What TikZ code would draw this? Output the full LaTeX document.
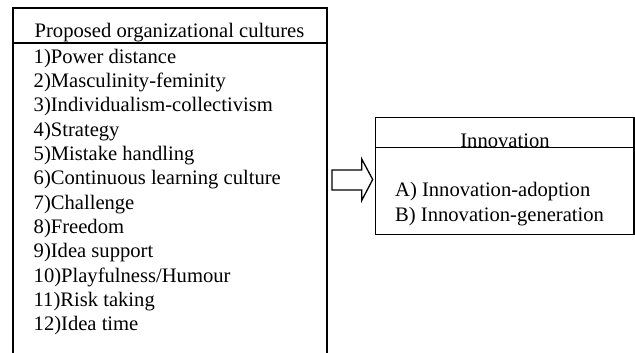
\documentclass[tikz,border=0pt]{standalone}
\usepackage{fontspec}
\setmainfont{Liberation Serif}
\begin{document}
\begin{tikzpicture}[x=1pt,y=-1pt,
  boxline/.style={line width=1.5pt,black},
  txt/.style={anchor=base west,inner sep=0pt,font=\fontsize{20.6}{24}\selectfont},
  ttl/.style={anchor=base,inner sep=0pt,font=\fontsize{20.6}{24}\selectfont}]
\useasboundingbox (0,0) rectangle (635,353);
% left box
\coordinate (LTL) at (13,8);
\coordinate (LTR) at (327,8);
\coordinate (LBL) at (13,354);
\coordinate (LBR) at (327,354);
\coordinate (LSL) at (13,43);
\coordinate (LSR) at (327,43);
\draw[boxline] (LBL) -- (LTL) -- (LTR) -- (LBR);
\draw[boxline] (LSL) -- (LSR);
\node[ttl] (ltitle) at (169.5,37.5) {Proposed organizational cultures};
\node[txt] (i1) at (33.5,63.3) {1)Power distance};
\node[txt] (i2) at (33.5,87.6) {2)Masculinity-feminity};
\node[txt] (i3) at (33.5,111.9) {3)Individualism-collectivism};
\node[txt] (i4) at (33.5,136.2) {4)Strategy};
\node[txt] (i5) at (33.5,160.5) {5)Mistake handling};
\node[txt] (i6) at (33.5,184.8) {6)Continuous learning culture};
\node[txt] (i7) at (33.5,209.1) {7)Challenge};
\node[txt] (i8) at (33.5,233.4) {8)Freedom};
\node[txt] (i9) at (33.5,257.7) {9)Idea support};
\node[txt] (i10) at (33.5,282.0) {10)Playfulness/Humour};
\node[txt] (i11) at (33.5,306.3) {11)Risk taking};
\node[txt] (i12) at (33.5,330.6) {12)Idea time};
% right box
\draw[boxline] (375.5,117.7) rectangle (634,234.3);
\node[ttl] (rtitle) at (505,147) {Innovation};
\draw[boxline] (375.5,147.7) -- (634,147.7);
\node[txt] (a) at (395,196.7) {A) Innovation-adoption};
\node[txt] (b) at (395,221) {B) Innovation-generation};
% block arrow
\draw[line width=1.3pt,line join=miter]
  (332,170) -- (361.7,170) -- (361.7,159) -- (372.7,179.5) -- (361.7,200.5)
  -- (361.7,190) -- (332,190) -- cycle;
\end{tikzpicture}
\end{document}
